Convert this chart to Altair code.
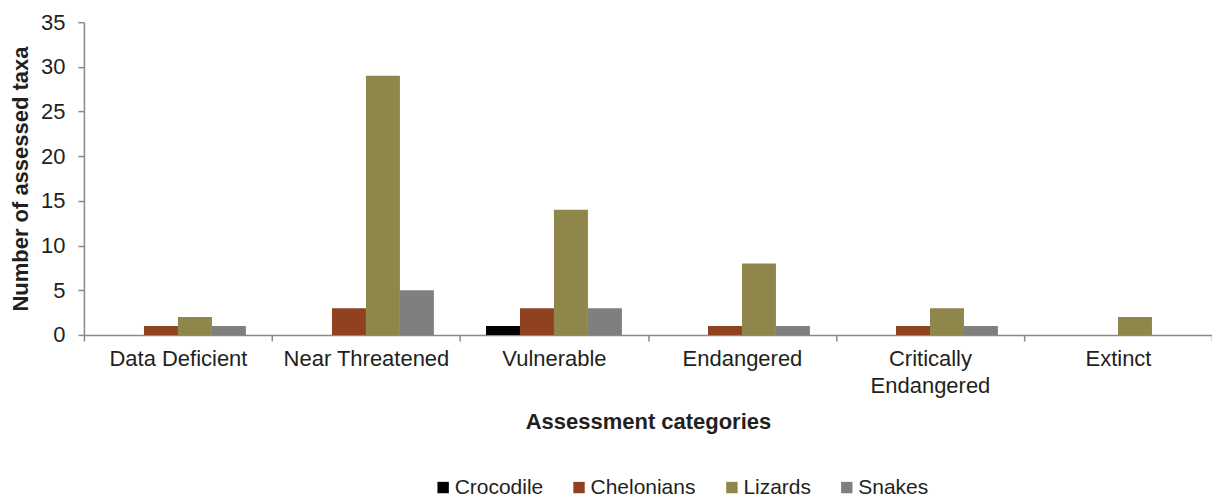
import altair as alt
import pandas as pd

categories = ["Data Deficient", "Near Threatened", "Vulnerable", "Endangered",
              "Critically Endangered", "Extinct"]
series = ["Crocodile", "Chelonians", "Lizards", "Snakes"]
crocodile = [0, 0, 1, 0, 0, 0]
chelonians = [1, 3, 3, 1, 1, 0]
lizards = [2, 29, 14, 8, 3, 2]
snakes = [1, 5, 3, 1, 1, 0]
colors = ["#000000", "#8f4120", "#8f864c", "#7f7f7f"]
y_ticks = [0, 5, 10, 15, 20, 25, 30, 35]

rows = []
for name, vals in zip(series, [crocodile, chelonians, lizards, snakes]):
    for c, v in zip(categories, vals):
        rows.append({"category": c, "group": name, "value": v})
df = pd.DataFrame(rows)

FONT = "Liberation Sans"

chart = alt.Chart(df).mark_bar().encode(
    x=alt.X("category:N", sort=categories,
            scale=alt.Scale(paddingInner=0, paddingOuter=0),
            axis=alt.Axis(title="Assessment categories", labelAngle=0, tickBand="extent",
                          labelExpr="datum.label == 'Critically Endangered' ? ['Critically', 'Endangered'] : datum.label",
                          labelFontSize=22, labelFont=FONT, labelColor="#231f20",
                          labelPadding=8, labelLineHeight=27,
                          titleFontSize=22, titleFont=FONT, titleFontWeight="bold", titleColor="#231f20",
                          titleY=94, titleBaseline="alphabetic",
                          domainColor="#898989", domainWidth=1.5, tickColor="#898989",
                          tickSize=6, tickWidth=1.5, grid=False)),
    xOffset=alt.XOffset("group:N", sort=series,
                        scale=alt.Scale(paddingInner=0, paddingOuter=0.767)),
    y=alt.Y("value:Q", scale=alt.Scale(domain=[0, 35], nice=False),
            axis=alt.Axis(title="Number of assessed taxa", values=y_ticks,
                          labelFontSize=22, labelFont=FONT, labelColor="#231f20", labelPadding=13,
                          titleFontSize=22, titleFont=FONT, titleFontWeight="bold", titleColor="#231f20",
                          titleX=-63, titleBaseline="middle",
                          domainColor="#898989", domainWidth=1.5, tickColor="#898989",
                          tickSize=6, tickWidth=1.5, grid=False)),
    color=alt.Color("group:N", sort=series,
                    scale=alt.Scale(domain=series, range=colors),
                    legend=alt.Legend(title=None, orient="none", direction="horizontal",
                                      legendX=349, legendY=455, symbolType="square",
                                      symbolSize=130, symbolStrokeWidth=0, labelOffset=1,
                                      columnPadding=25, labelFontSize=21, labelFont=FONT,
                                      labelColor="#231f20")),
).properties(
    width=1129, height=313,
    autosize=alt.AutoSizeParams(type="none"),
    padding={"left": 76, "top": 14, "right": 0, "bottom": 162},
).configure(background="#ffffff").configure_view(stroke=None)

chart.save("out.html", embed_options={"renderer": "svg", "actions": False})
